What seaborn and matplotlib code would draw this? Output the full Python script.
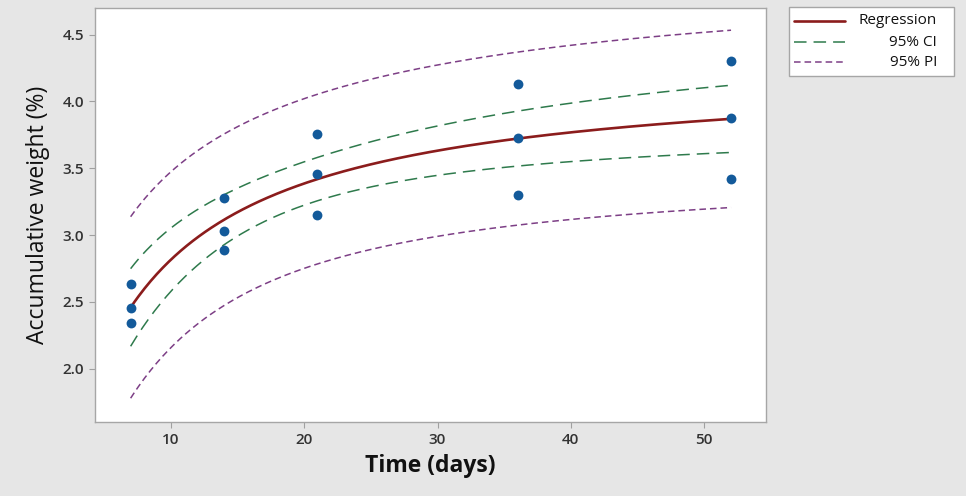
import numpy as np
import pandas as pd
import seaborn as sns
import matplotlib.pyplot as plt
from matplotlib.lines import Line2D
from matplotlib.patches import Rectangle

# Observations: three replicates per sampling day
time_days = [7, 7, 7, 14, 14, 14, 21, 21, 21, 36, 36, 36, 52, 52, 52]
weight_pct = [2.63, 2.45, 2.34, 3.28, 3.03, 2.89, 3.76, 3.46, 3.15,
              4.13, 3.73, 3.30, 4.30, 3.88, 3.42]

x_ticks = [10, 20, 30, 40, 50]
y_ticks = [2.0, 2.5, 3.0, 3.5, 4.0, 4.5]
legend_labels = ["Regression", "95% CI", "95% PI"]

# two-sided 95% Student t quantile for 13 residual degrees of freedom
T_CRIT = 2.1604

df = pd.DataFrame({"time": time_days, "weight": weight_pct})
t_obs = df["time"].to_numpy(float)
y_obs = df["weight"].to_numpy(float)


# saturating model  y = a * t / (b + t)
def model(p, t):
    a, b = p
    return a * t / (b + t)


def jac(p, t):
    a, b = p
    return np.column_stack([t / (b + t), -a * t / (b + t) ** 2])


# Gauss-Newton least squares
p = np.array([4.0, 5.0])
for _ in range(100):
    r = y_obs - model(p, t_obs)
    J = jac(p, t_obs)
    step, *_ = np.linalg.lstsq(J, r, rcond=None)
    p = p + step
    if np.max(np.abs(step)) < 1e-10:
        break

resid = y_obs - model(p, t_obs)
dof = len(y_obs) - len(p)
s = np.sqrt(resid @ resid / dof)
J = jac(p, t_obs)
cov_unit = np.linalg.inv(J.T @ J)

grid = np.linspace(min(time_days), max(time_days), 300)
fit = model(p, grid)
G = jac(p, grid)
lev = np.einsum("ij,jk,ik->i", G, cov_unit, G)
ci = T_CRIT * s * np.sqrt(lev)
pi = T_CRIT * s * np.sqrt(1 + lev)

curves = pd.DataFrame({
    "time": grid, "fit": fit,
    "ci_lo": fit - ci, "ci_hi": fit + ci,
    "pi_lo": fit - pi, "pi_hi": fit + pi,
})

sns.set_theme(style="white")
plt.rcParams["font.family"] = ["Open Sans", "DejaVu Sans"]

BG = "#e6e6e6"
REG_C = "#8b1c1c"
CI_C = "#2e7a4c"
PI_C = "#7d3f86"
PT_C = "#135a9a"

fig = plt.figure(figsize=(9.66, 4.96), dpi=100, facecolor=BG)
ax = fig.add_axes([95 / 966, 1 - 422 / 496, (766 - 95) / 966, (422 - 8) / 496])
ax.set_facecolor("white")

ci_dash = (8.2, 4.6)
pi_dash = (4.3, 2.6)
for col, color, dash in [("pi_hi", PI_C, pi_dash), ("pi_lo", PI_C, pi_dash),
                         ("ci_hi", CI_C, ci_dash), ("ci_lo", CI_C, ci_dash)]:
    sns.lineplot(data=curves, x="time", y=col, ax=ax, color=color,
                 linewidth=1.1, dashes=False, legend=False)
    ax.lines[-1].set_dashes(dash)

sns.lineplot(data=curves, x="time", y="fit", ax=ax, color=REG_C,
             linewidth=1.9, legend=False)
sns.scatterplot(data=df, x="time", y="weight", ax=ax, color=PT_C, s=50,
                edgecolor=PT_C, linewidth=0, zorder=5, legend=False)

ax.set_xlim(4.33, 54.62)
ax.set_ylim(1.60, 4.70)
ax.set_xticks(x_ticks)
ax.set_yticks(y_ticks)
ax.set_xticklabels([str(v) for v in x_ticks])
ax.set_yticklabels([f"{v:.1f}" for v in y_ticks])
ax.tick_params(axis="both", length=4, width=0.8, color="#a0a0a0",
               labelsize=11, labelcolor="#333333", pad=4, direction="out")
for lab in ax.get_xticklabels() + ax.get_yticklabels():
    lab.set_fontweight("semibold")
ax.tick_params(bottom=True, left=True)
for sp in ax.spines.values():
    sp.set_color("#a6a6a6")
    sp.set_linewidth(1.0)

ax.set_xlabel("Time (days)", fontsize=16.5, fontweight="bold", color="#111111",
              labelpad=5)
ax.set_ylabel("Accumulative weight (%)", fontsize=16.5, color="#111111",
              labelpad=9)

# legend panel on the right, text flush right
W, H = 966, 496
fig.add_artist(Rectangle((789 / W, 1 - 76 / H), (954 - 789) / W, (76 - 7) / H,
                         transform=fig.transFigure, facecolor="white",
                         edgecolor="#a6a6a6", linewidth=1.0))
rows = [21, 42, 62]
styles = [(REG_C, 1.9, None), (CI_C, 1.1, ci_dash), (PI_C, 1.1, pi_dash)]
for yy, lab, (c, lw, d) in zip(rows, legend_labels, styles):
    ln = Line2D([794 / W, 845 / W], [1 - yy / H] * 2, transform=fig.transFigure,
                color=c, linewidth=lw)
    if d is not None:
        ln.set_dashes(d)
    fig.add_artist(ln)
    fig.text(937 / W, 1 - yy / H, lab, ha="right", va="center", fontsize=11,
             color="#111111")

fig.savefig("out.png", dpi=100, facecolor=BG)
